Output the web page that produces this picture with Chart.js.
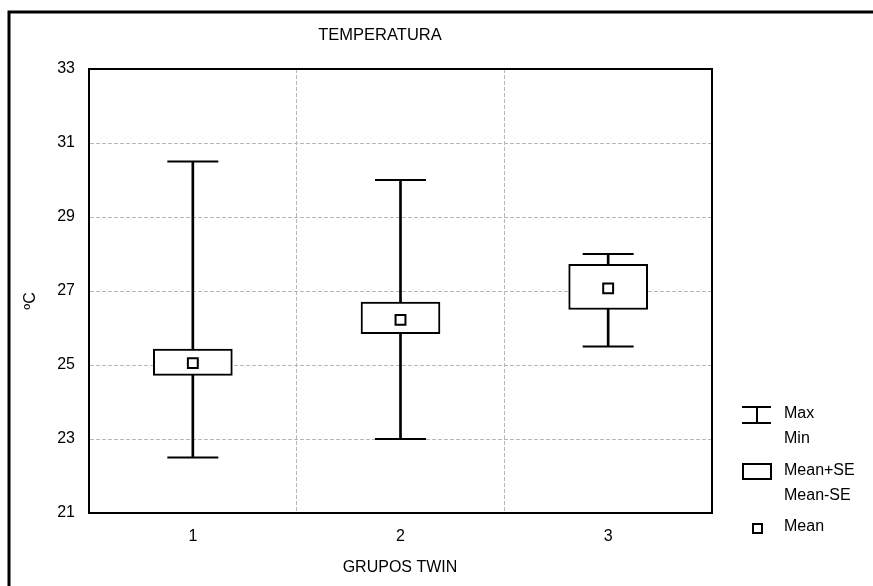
<!DOCTYPE html>
<html>
<head>
<meta charset="utf-8">
<script src="https://cdn.jsdelivr.net/npm/chart.js@4.4.0/dist/chart.umd.min.js"></script>
<style>
  html, body { margin: 0; padding: 0; background: #fff; }
  #wrap { width: 873px; height: 586px; position: relative; }
</style>
</head>
<body>
<div id="wrap"><canvas id="myChart"></canvas></div>
<script>
const grupos = ["1", "2", "3"]
const maximo = [30.5, 30.0, 28.0]
const minimo = [22.5, 23.0, 25.5]
const mediaMasSE = [25.43, 26.7, 27.72]
const mediaMenosSE = [24.72, 25.85, 26.5]
const media = [25.05, 26.22, 27.07]
const ticksY = [21, 23, 25, 27, 29, 31, 33]

const ctx = document.querySelector("#myChart")
const fuente = "'Liberation Sans', Arial, sans-serif"

// marco, textos y leyenda
const extras = {
    id: "extras",
    beforeDraw(chart) {
        const c = chart.ctx
        c.save()
        c.fillStyle = "#fff"
        c.fillRect(0, 0, chart.width, chart.height)
        c.restore()
    },
    afterDraw(chart) {
        const c = chart.ctx
        const a = chart.chartArea
        c.save()
        // marco exterior (solo arriba e izquierda)
        c.strokeStyle = "#000"
        c.lineWidth = 3
        c.beginPath()
        c.moveTo(9, 590)
        c.lineTo(9, 12)
        c.lineTo(880, 12)
        c.stroke()
        // marco del grafico
        c.lineWidth = 2
        c.strokeRect(a.left, a.top, a.right - a.left, a.bottom - a.top)

        c.fillStyle = "#000"
        c.font = "16.5px " + fuente
        c.textAlign = "center"
        c.textBaseline = "middle"
        c.fillText("TEMPERATURA", 380, 35)
        c.font = "16px " + fuente
        c.fillText("GRUPOS TWIN", 400, 568)
        c.save()
        c.translate(31, 301)
        c.rotate(-Math.PI / 2)
        c.fillText("ºC", 0, 0)
        c.restore()

        // leyenda
        c.lineWidth = 2
        c.beginPath()
        c.moveTo(742, 407); c.lineTo(771, 407)
        c.moveTo(742, 423); c.lineTo(771, 423)
        c.moveTo(757, 407); c.lineTo(757, 423)
        c.stroke()
        c.strokeRect(743, 464, 28, 15)
        c.strokeRect(753, 524, 9, 9)
        c.textAlign = "left"
        c.fillText("Max", 784, 414)
        c.fillText("Min", 784, 439)
        c.fillText("Mean+SE", 784, 471)
        c.fillText("Mean-SE", 784, 496)
        c.fillText("Mean", 784, 527)
        c.restore()
    }
}

new Chart(ctx, {
    data: {
        labels: grupos,
        datasets: [
            {
                type: "line",
                label: "Mean",
                data: media,
                showLine: false,
                pointStyle: "rect",
                pointRadius: 7,
                pointBackgroundColor: "#fff",
                pointBorderColor: "#000",
                pointBorderWidth: 2,
                order: 0,
            },
            {
                type: "bar",
                label: "Mean+SE / Mean-SE",
                data: grupos.map((g, i) => [mediaMenosSE[i], mediaMasSE[i]]),
                backgroundColor: "#fff",
                borderColor: "#000",
                borderWidth: 2,
                borderSkipped: false,
                barThickness: 79,
                grouped: false,
                order: 1,
            },
            {
                type: "line",
                label: "Max",
                data: maximo,
                showLine: false,
                pointStyle: "line",
                pointRadius: 25.5,
                pointBorderColor: "#000",
                pointBorderWidth: 2,
                order: 2,
            },
            {
                type: "line",
                label: "Min",
                data: minimo,
                showLine: false,
                pointStyle: "line",
                pointRadius: 25.5,
                pointBorderColor: "#000",
                pointBorderWidth: 2,
                order: 2,
            },
            {
                type: "bar",
                label: "Min-Max",
                data: grupos.map((g, i) => [minimo[i], maximo[i]]),
                backgroundColor: "#000",
                borderWidth: 0,
                barThickness: 2,
                grouped: false,
                order: 3,
            },
        ],
    },
    options: {
        responsive: true,
        maintainAspectRatio: false,
        animation: false,
        layout: { padding: { left: 0, top: 69, right: 161, bottom: 43 } },
        plugins: {
            legend: { display: false },
            tooltip: { enabled: false },
        },
        elements: { point: { hoverRadius: 7 } },
        scales: {
            x: {
                type: "category",
                offset: true,
                grid: {
                    offset: true,
                    color: "#b8b8b8",
                    lineWidth: 1,
                    drawTicks: false,
                },
                border: { display: true, color: "#000", width: 2, dash: [4, 2] },
                ticks: {
                    color: "#000",
                    font: { family: fuente, size: 16 },
                    padding: 14,
                },
                afterFit: (s) => { s.height = 30 },
            },
            y: {
                min: 21,
                max: 33,
                afterBuildTicks: (s) => { s.ticks = ticksY.map(v => ({ value: v })) },
                grid: {
                    color: "#b8b8b8",
                    lineWidth: 1,
                    drawTicks: false,
                },
                border: { display: true, color: "#000", width: 2, dash: [4, 2] },
                ticks: {
                    color: "#000",
                    font: { family: fuente, size: 16 },
                    padding: 14,
                },
                afterFit: (s) => { s.width = 89 },
            },
        },
    },
    plugins: [extras],
})
</script>
</body>
</html>
